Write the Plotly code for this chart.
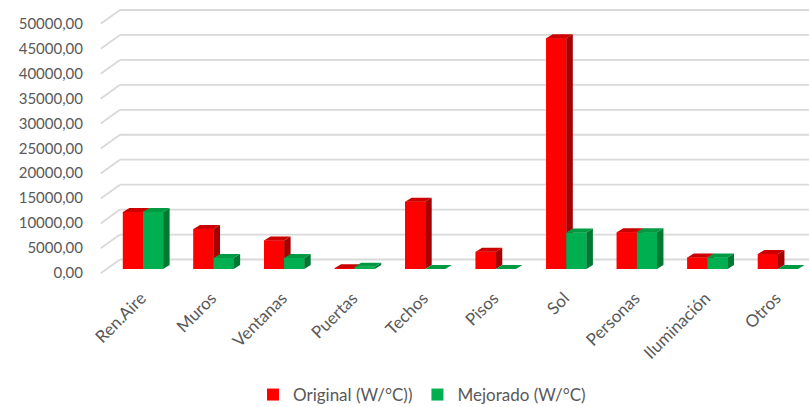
import plotly.graph_objects as go

# ---------------- data ----------------
categories = ["Ren.Aire", "Muros", "Ventanas", "Puertas", "Techos",
              "Pisos", "Sol", "Personas", "Iluminación", "Otros"]
original = [11400, 8000, 5700, 150, 13500, 3450, 46250, 7350, 2300, 3000]
mejorado = [11400, 2200, 2200, 450, 0, 0, 7300, 7350, 2300, 0]
series_names = ["Original (W/°C))", "Mejorado (W/°C)"]
y_tick_values = list(range(0, 50001, 5000))
y_tick_labels = [f"{v},00" for v in y_tick_values]

# ---------------- geometry / style ----------------
W, H = 809, 407
CAT_PX = 70.55            # pixels per category slot
FIRST_CENTER_PX = 143.0   # pixel x of first category centre
BASE_PX = 269.0           # pixel y of the value 0 (bar front base)
PX_PER_UNIT = 249.5 / 50000.0
BAR_W = 0.285             # bar width in category units
DEPTH_DX = 6.5 / CAT_PX   # 3-D depth offset (x, category units)
DEPTH_DY = 4.0 / PX_PER_UNIT  # 3-D depth offset (y, value units)
GRID_UP_PX = 9.5          # back wall grid offset above bar plane
FRONT_DOWN_PX = 4.3       # front floor edge offset below bar plane
WALL_X0 = 100.7 / W
WALL_X1 = 120.0 / W
YLABEL_AXIS_X = 83.0 / W
FONT = "Lato"
TXT = "#595959"
GRID = "#D9D9D9"

colors = {
    "front": ["#FF0000", "#00B050"],
    "side": ["#A60000", "#007A33"],
    "top": ["#CC0000", "#009A42"],
}

x_left_px = FIRST_CENTER_PX - CAT_PX / 2
x_range = [-0.5, -0.5 + (W - x_left_px) / CAT_PX]
y_range = [-(H - BASE_PX) / PX_PER_UNIT, BASE_PX / PX_PER_UNIT]

fig = go.Figure()


def faces(values, offset):
    side_x, side_y, top_x, top_y, front_x, front_y = [], [], [], [], [], []
    for i, v in enumerate(values):
        x0 = i + offset
        x1 = x0 + BAR_W
        front_x += [x0, x1, x1, x0, x0, None]
        front_y += [0, 0, v, v, 0, None]
        side_x += [x1, x1, x1 + DEPTH_DX, x1 + DEPTH_DX, x1, None]
        side_y += [0, v, v + DEPTH_DY, DEPTH_DY, 0, None]
        top_x += [x0, x1, x1 + DEPTH_DX, x0 + DEPTH_DX, x0, None]
        top_y += [v, v, v + DEPTH_DY, v + DEPTH_DY, v, None]
    return (front_x, front_y), (side_x, side_y), (top_x, top_y)


xs = list(range(len(categories)))
for k, (vals, name, off) in enumerate([(original, series_names[0], -BAR_W),
                                       (mejorado, series_names[1], 0.0)]):
    fig.add_trace(go.Bar(
        x=xs, y=vals, name=name, width=BAR_W, offset=off,
        marker=dict(color=colors["front"][k], line=dict(width=0)),
        hoverinfo="skip"))

for k, (vals, off) in enumerate([(original, -BAR_W), (mejorado, 0.0)]):
    front, side, top = faces(vals, off)
    for (px, py), col in [(front, colors["front"][k]), (side, colors["side"][k]),
                          (top, colors["top"][k])]:
        fig.add_trace(go.Scatter(
            x=px, y=py, mode="lines", fill="toself", fillcolor=col,
            line=dict(width=0, color=col), showlegend=False, hoverinfo="skip"))

# back-wall gridlines and floor/wall diagonals
for v in y_tick_values:
    fig.add_shape(type="line", xref="paper", yref="y", ysizemode="pixel",
                  yanchor=v, x0=WALL_X1, x1=1, y0=GRID_UP_PX, y1=GRID_UP_PX,
                  line=dict(color=GRID, width=1.8), layer="below")
    fig.add_shape(type="line", xref="paper", yref="y", ysizemode="pixel",
                  yanchor=v, x0=WALL_X0, x1=WALL_X1, y0=-FRONT_DOWN_PX, y1=GRID_UP_PX,
                  line=dict(color=GRID, width=1.8), layer="below")

fig.update_layout(
    width=W, height=H, autosize=False,
    margin=dict(l=0, r=0, t=0, b=0, autoexpand=False),
    paper_bgcolor="white", plot_bgcolor="white",
    barmode="overlay",
    font=dict(family=FONT, color=TXT, size=17),
    xaxis=dict(domain=[x_left_px / W, 1], range=x_range, automargin=False,
               anchor="free", position=(H - BASE_PX) / H,
               tickmode="array", tickvals=xs, ticktext=categories,
               tickangle=-45, showgrid=False, zeroline=False, showline=False,
               ticks="", ticklabelstandoff=15, ticklabelshift=-2,
               tickfont=dict(family=FONT, size=17, color=TXT)),
    yaxis=dict(domain=[0, 1], range=y_range, anchor="free",
               position=YLABEL_AXIS_X, automargin=False,
               tickmode="array", tickvals=y_tick_values, ticktext=y_tick_labels,
               showgrid=False, zeroline=False, showline=False, ticks="",
               ticklabelshift=4,
               tickfont=dict(family=FONT, size=15, color=TXT)),
    legend=dict(orientation="h", x=253 / W, xanchor="left",
                y=(H - 395) / H, yanchor="middle",
                bgcolor="rgba(0,0,0,0)",
                font=dict(family=FONT, size=17, color=TXT)),
    showlegend=True,
)

fig.write_html("out.html")
